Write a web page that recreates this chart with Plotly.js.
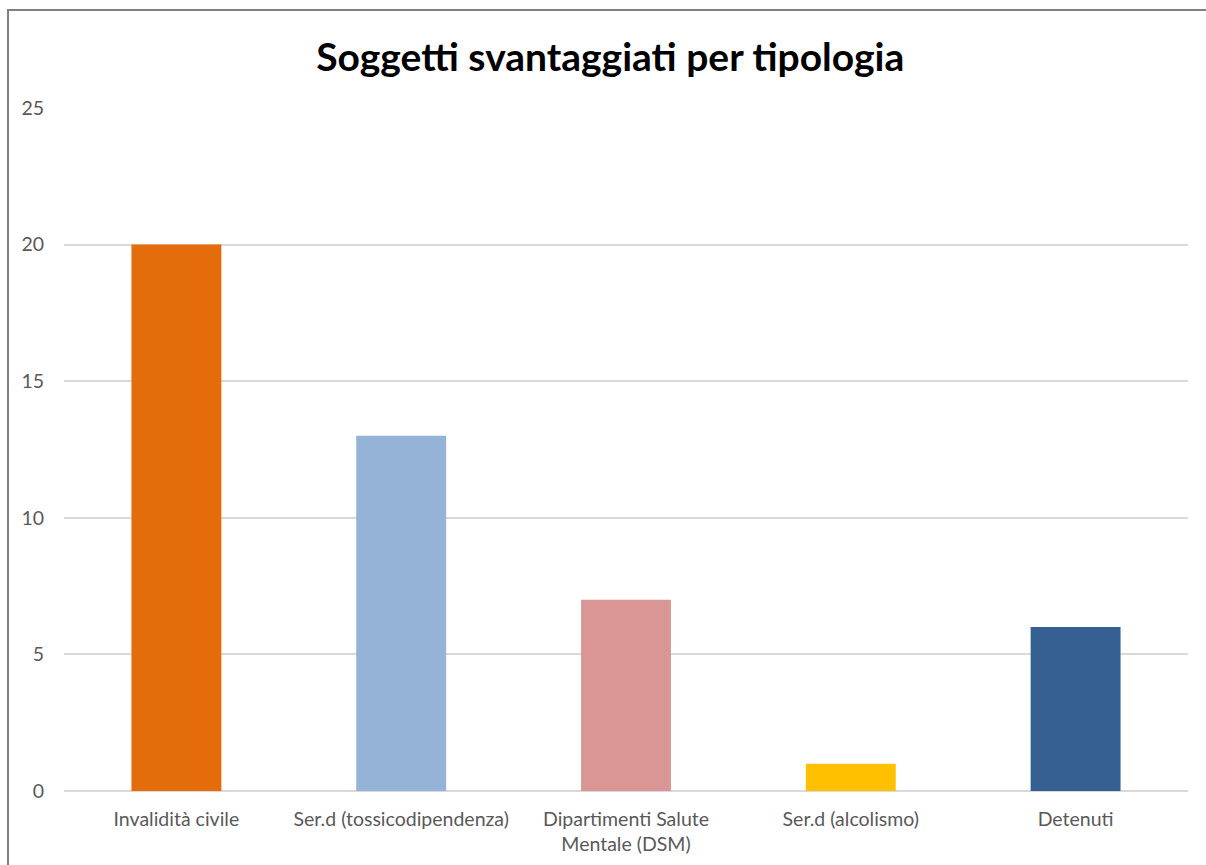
<!DOCTYPE html>
<html><head><meta charset="utf-8">
<script src="https://cdn.plot.ly/plotly-3.0.1.min.js"></script>
<style>html,body{margin:0;padding:0;background:#fff;}#chart{width:1206px;height:865px;}</style>
</head><body><div id="chart"></div>
<script>
const categories = ["Invalidità civile", "Ser.d (tossicodipendenza)", "Dipartimenti Salute<br>Mentale (DSM)", "Ser.d (alcolismo)", "Detenuti"];
const values = [20, 13, 7, 1, 6];
const barColors = ["#E46C0A", "#95B3D7", "#D99694", "#FFC000", "#366092"];
const yTicks = [0, 5, 10, 15, 20, 25];
const chartTitle = "Soggetti svantaggiati per tipologia";

const FONT = "Lato, 'Open Sans', 'Liberation Sans', sans-serif";
const L = 64, R = 18, T = 108, B = 74, W = 1206, H = 865;
const pw = W - L - R, ph = H - T - B;
const px = v => (v - L) / pw, py = v => (H - B - v) / ph;

Plotly.newPlot('chart', [{
  type: 'bar', x: categories, y: values,
  marker: {color: barColors},
  hoverinfo: 'x+y'
}], {
  width: W, height: H,
  margin: {l: L, r: R, t: T, b: B, pad: 0},
  paper_bgcolor: '#fff', plot_bgcolor: '#fff',
  bargap: 0.6,
  showlegend: false,
  font: {family: FONT, color: '#595959', size: 19.5},
  title: {text: '<b>' + chartTitle + '</b>', font: {family: FONT, size: 39, color: '#000'},
          x: 0.506, xanchor: 'center', y: 1 - 57 / H, yanchor: 'middle'},
  xaxis: {showgrid: false, showline: false, zeroline: false, ticks: '',
          tickfont: {size: 19.5, color: '#595959'}, ticklabelstandoff: 14},
  yaxis: {range: [0, 25], tickvals: yTicks, ticktext: yTicks.map(String),
          showgrid: true, gridcolor: '#D9D9D9', gridwidth: 2,
          zeroline: true, zerolinecolor: '#D9D9D9', zerolinewidth: 2,
          showline: false, ticks: '', ticklabelstandoff: 19,
          tickfont: {size: 19.5, color: '#595959'}},
  shapes: [{type: 'rect', xref: 'paper', yref: 'paper',
            x0: px(8), x1: px(1300), y0: py(1000), y1: py(10),
            line: {color: '#808080', width: 2}, fillcolor: 'rgba(0,0,0,0)', layer: 'above'}]
}, {displayModeBar: false, staticPlot: true});
</script></body></html>
